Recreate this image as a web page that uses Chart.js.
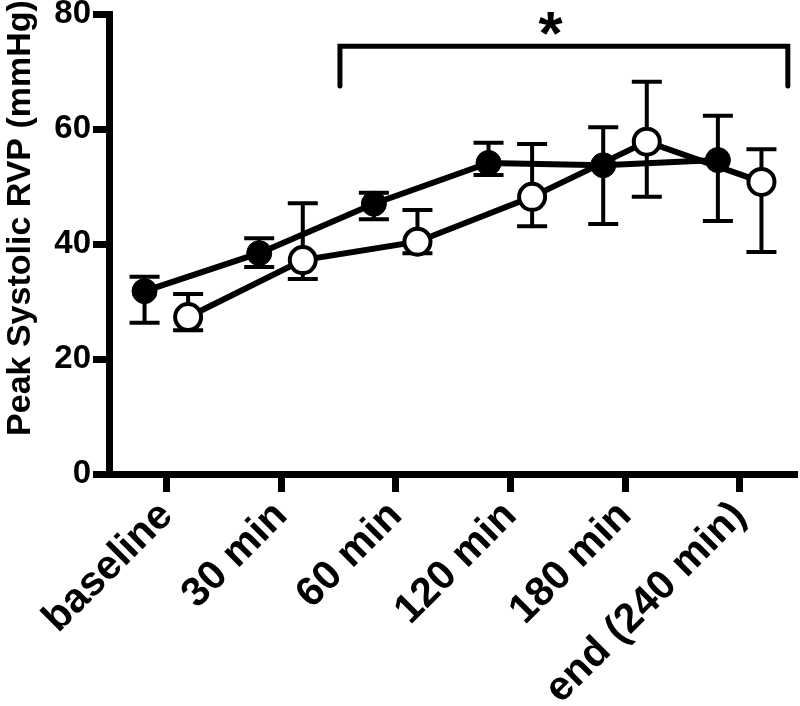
<!DOCTYPE html>
<html>
<head>
<meta charset="utf-8">
<script src="https://cdn.jsdelivr.net/npm/chart.js@4/dist/chart.umd.min.js"></script>
<style>
    html, body { margin: 0; padding: 0; background: #fff; overflow: hidden; }
    #wrap { width: 800px; height: 706px; position: relative; }
</style>
</head>
<body>
<div id="wrap"><canvas id="rvpChart"></canvas></div>
<script>
const timeLabels = ["baseline", "30 min", "60 min", "120 min", "180 min", "end (240 min)"];

// filled circles
const filledMean = [31.8, 38.4, 47.0, 54.1, 53.7, 54.6];
const filledUpper = [34.3, 41.0, 48.9, 57.6, 60.3, 62.3];
const filledLower = [26.3, 36.0, 44.3, 52.0, 43.5, 44.0];

// open circles
const openMean = [27.3, 37.2, 40.4, 48.2, 57.8, 50.8];
const openUpper = [31.3, 47.1, 45.9, 57.4, 68.2, 56.5];
const openLower = [25.0, 33.9, 38.4, 43.1, 48.2, 38.6];

const yTicks = [0, 20, 40, 60, 80];
const groupShift = 0.19;

// significance bracket (x in category units, y in mmHg)
const bracketX = [1.514, 5.42];
const bracketY = [67.5, 74.4];
const starPos = [3.35, 78.3];

const fontFamily = "'Liberation Sans', Arial, Helvetica, sans-serif";

function toPoints(values, shift) {
    var pts = [];
    values.forEach((v, i) => {
        pts.push({x: i + shift, y: v});
    });
    return pts;
}

var errorBars = [
    {shift: -groupShift, upper: filledUpper, lower: filledLower},
    {shift: groupShift, upper: openUpper, lower: openLower}
];

const errorBarPlugin = {
    id: "errorBars",
    beforeDatasetsDraw(chart) {
        var ctx = chart.ctx;
        var xs = chart.scales.x;
        var ys = chart.scales.y;
        ctx.save();
        ctx.strokeStyle = "#000";
        ctx.lineWidth = 4;
        ctx.lineCap = "butt";
        errorBars.forEach(bar => {
            bar.upper.forEach((up, i) => {
                var px = xs.getPixelForValue(i + bar.shift);
                var pTop = ys.getPixelForValue(up);
                var pBot = ys.getPixelForValue(bar.lower[i]);
                ctx.beginPath();
                ctx.moveTo(px, pTop);
                ctx.lineTo(px, pBot);
                ctx.moveTo(px - 15, pTop);
                ctx.lineTo(px + 15, pTop);
                ctx.moveTo(px - 15, pBot);
                ctx.lineTo(px + 15, pBot);
                ctx.stroke();
            });
        });
        ctx.restore();
    },
    afterDraw(chart) {
        var ctx = chart.ctx;
        var xs = chart.scales.x;
        var ys = chart.scales.y;
        ctx.save();
        // asterisk
        ctx.fillStyle = "#000";
        ctx.font = "bold 62px " + fontFamily;
        ctx.textAlign = "center";
        ctx.textBaseline = "alphabetic";
        var m = ctx.measureText("*");
        var cy = ys.getPixelForValue(starPos[1]);
        var base = cy + (m.actualBoundingBoxAscent - m.actualBoundingBoxDescent) / 2;
        ctx.fillText("*", xs.getPixelForValue(starPos[0]), base);
        // y axis title
        ctx.font = "bold 34px " + fontFamily;
        ctx.textBaseline = "middle";
        ctx.translate(21, chart.chartArea.top + 204);
        ctx.rotate(-Math.PI / 2);
        ctx.fillText("Peak Systolic RVP (mmHg)", 0, 0);
        ctx.restore();
    }
};

var rvpChart = new Chart("rvpChart", {
    type: "line",
    data: {
        datasets: [
            {
                data: [
                    {x: bracketX[0], y: bracketY[0]},
                    {x: bracketX[0], y: bracketY[1]},
                    {x: bracketX[1], y: bracketY[1]},
                    {x: bracketX[1], y: bracketY[0]}
                ],
                borderColor: "#000",
                borderWidth: 5,
                borderCapStyle: "round",
                borderJoinStyle: "miter",
                pointRadius: 0,
                fill: false
            },
            {
                data: toPoints(openMean, groupShift),
                borderColor: "#000",
                borderWidth: 6,
                pointRadius: 13,
                pointBackgroundColor: "#fff",
                pointBorderColor: "#000",
                pointBorderWidth: 4,
                fill: false
            },
            {
                data: toPoints(filledMean, -groupShift),
                borderColor: "#000",
                borderWidth: 6,
                pointRadius: 12.5,
                pointBackgroundColor: "#000",
                pointBorderColor: "#000",
                pointBorderWidth: 1,
                fill: false
            }
        ]
    },
    options: {
        responsive: true,
        maintainAspectRatio: false,
        animation: false,
        events: [],
        layout: {autoPadding: false, padding: {top: 14, right: 3, left: 0, bottom: 0}},
        plugins: {
            legend: {display: false},
            tooltip: {enabled: false}
        },
        scales: {
            x: {
                type: "linear",
                min: -0.5,
                max: 5.5,
                afterFit: scale => {
                    scale.height = 232;
                    scale.paddingLeft = 0;
                    scale.paddingRight = 0;
                },
                afterBuildTicks: scale => {
                    scale.ticks = timeLabels.map((t, i) => ({value: i}));
                },
                border: {display: true, color: "#000", width: 7},
                grid: {
                    drawOnChartArea: false,
                    drawTicks: true,
                    tickLength: 18,
                    tickWidth: 7,
                    tickColor: "#000"
                },
                ticks: {
                    color: "#000",
                    font: {family: fontFamily, size: 41, weight: "bold"},
                    maxRotation: 45,
                    minRotation: 45,
                    padding: 0,
                    autoSkip: false,
                    callback: value => timeLabels[value]
                }
            },
            y: {
                min: 0,
                max: 80,
                afterFit: scale => {
                    scale.width = 109;
                    scale.paddingTop = 0;
                    scale.paddingBottom = 0;
                },
                afterBuildTicks: scale => {
                    scale.ticks = yTicks.map(v => ({value: v}));
                },
                border: {display: true, color: "#000", width: 7},
                grid: {
                    drawOnChartArea: false,
                    drawTicks: true,
                    tickLength: 16,
                    tickWidth: 7,
                    tickColor: "#000"
                },
                ticks: {
                    color: "#000",
                    font: {family: fontFamily, size: 33, weight: "bold"},
                    padding: 2
                }
            }
        }
    },
    plugins: [errorBarPlugin]
});
</script>
</body>
</html>
